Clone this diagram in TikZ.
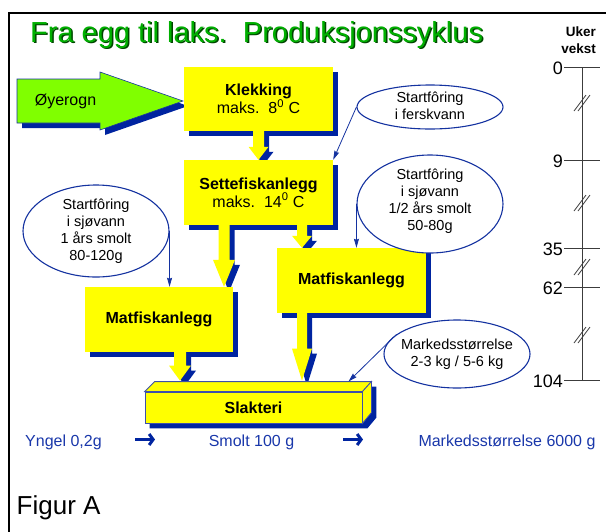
\documentclass[tikz,border=0pt]{standalone}
\usepackage{fontspec}
\setmainfont{Liberation Sans}
\usetikzlibrary{shapes.geometric,arrows.meta,calc}
\pgfdeclarelayer{shadowlayer}
\pgfdeclarelayer{arrlayer}
\pgfsetlayers{shadowlayer,arrlayer,main}
\definecolor{sblue}{RGB}{0,36,160}
\definecolor{yel}{RGB}{255,255,0}
\definecolor{lgreen}{RGB}{128,255,0}
\definecolor{tgreen}{RGB}{0,175,0}
\definecolor{tshadow}{RGB}{0,70,0}
\definecolor{eblue}{RGB}{20,50,160}
\definecolor{tblue}{RGB}{25,55,170}
\definecolor{edgeblue}{RGB}{60,80,170}
\definecolor{axisgray}{RGB}{60,60,60}
\newcommand\myfs[2]{\fontsize{#1}{#2}\selectfont}
% block arrow: #1 source point, #2 target point, #3 x centre, #4 shaft half width, #5 head half width, #6 head length
\newcommand\blockarrow[6]{%
  \begin{pgfonlayer}{shadowlayer}
  \fill[sblue] let \p1=(#1), \p2=(#2) in
    ({#3-#4+5},{\y1-5}) -- ({#3+#4+5},{\y1-5}) -- ({#3+#4+5},{\y2+#6-5}) -- ({#3+#5+5},{\y2+#6-5})
    -- ({#3+5},{\y2-5}) -- ({#3-#5+5},{\y2+#6-5}) -- ({#3-#4+5},{\y2+#6-5}) -- cycle;
  \end{pgfonlayer}
  \begin{pgfonlayer}{arrlayer}
  \fill[yel] let \p1=(#1), \p2=(#2) in
    ({#3-#4},{\y1}) -- ({#3+#4},{\y1}) -- ({#3+#4},{\y2+#6}) -- ({#3+#5},{\y2+#6})
    -- ({#3},{\y2}) -- ({#3-#5},{\y2+#6}) -- ({#3-#4},{\y2+#6}) -- cycle;
  \end{pgfonlayer}}
\newcommand\boxshadow[1]{%
  \begin{pgfonlayer}{shadowlayer}
  \fill[sblue] ([shift={(5,5)}]#1.north west) rectangle ([shift={(5,5)}]#1.south east);
  \end{pgfonlayer}}
\frenchspacing
\begin{document}
\begin{tikzpicture}[x=1pt,y=-1pt,
  ybox/.style={fill=yel, inner sep=0pt, align=center, font=\myfs{16}{18}},
  bubble/.style={draw=eblue, line width=1.1pt, fill=white, ellipse, inner sep=0pt},
  btext/.style={align=center, font=\myfs{14.5}{17}, inner sep=0pt},
  conn/.style={draw=eblue, line width=0.8pt, -{Stealth[length=9pt,width=5pt,inset=1pt]}},
  btm/.style={text=tblue, font=\myfs{16}{18}, inner sep=0pt},
  bigarr/.style={draw=sblue, line width=3pt, -{Straight Barb[length=4pt,width=11pt]}},
  scl/.style={font=\myfs{18}{20}, inner sep=0pt, anchor=east},
  axisline/.style={draw=axisgray, line width=0.8pt},
  ]
\useasboundingbox (0,0) rectangle (606,531);
% frame
\draw[line width=2pt] (9,540) -- (9,12.5) -- (615,12.5);

% title
\node[anchor=base west, text=tshadow, font=\myfs{29}{32}, inner sep=0pt] (titlesh) at (31.5,43.5) {Fra egg til laks.\ \ Produksjonssyklus};
\node[anchor=base west, text=tgreen, font=\myfs{29}{32}, inner sep=0pt] (title) at (30,42) {Fra egg til laks.\ \ Produksjonssyklus};

% yellow boxes
\node[ybox, minimum width=149, minimum height=64] (kl) at (258.5,99) {\textbf{Klekking}\\maks.\ \ 8\textsuperscript{0} C};
\node[ybox, minimum width=149, minimum height=65] (sf) at (258.5,192.5) {\textbf{Settefiskanlegg}\\maks.\ \ 14\textsuperscript{0} C};
\node[ybox, minimum width=148, minimum height=65, font=\bfseries\myfs{16}{18}] (mfL) at (159,319.5) {Matfiskanlegg};
\node[ybox, minimum width=149, minimum height=65, font=\bfseries\myfs{16}{18}] (mfR) at (351.5,280.5) {Matfiskanlegg};
\boxshadow{kl}
\boxshadow{sf}
\boxshadow{mfL}
\boxshadow{mfR}

% Slakteri 3D box
\node[ybox, draw=edgeblue, line width=0.8pt, minimum width=217, minimum height=31, font=\bfseries\myfs{16}{18}] (sl) at (253.5,407.5) {Slakteri};
\filldraw[fill=yel, draw=edgeblue, line width=0.8pt] (sl.north west) -- ++(10,-10) -- ([shift={(9,-10)}]sl.north east) -- (sl.north east) -- cycle;
\filldraw[fill=yel, draw=edgeblue, line width=0.8pt] (sl.north east) -- ++(9,-10) -- ++(0,31) -- (sl.south east) -- cycle;
\begin{pgfonlayer}{shadowlayer}
\fill[sblue] ([shift={(5,5)}]sl.north west) -- ([shift={(15,-5)}]sl.north west) -- ([shift={(14,-5)}]sl.north east)
  -- ([shift={(14,26)}]sl.north east) -- ([shift={(5,5)}]sl.south east) -- ([shift={(5,5)}]sl.south west) -- cycle;
\end{pgfonlayer}
\coordinate (sltop) at ($(sl.north)+(0,-11)$);
\coordinate (slarr) at ($(sl.north east)+(-14,-10)$);

% green arrow
\begin{pgfonlayer}{shadowlayer}
\fill[sblue] (22,84) -- (105,84) -- (105,77) -- (188,106) -- (105,135) -- (105,128) -- (22,128) -- cycle;
\end{pgfonlayer}
\begin{pgfonlayer}{arrlayer}
\filldraw[fill=lgreen, draw=eblue, line width=0.6pt] (17,79) -- (100,79) -- (100,72) -- (183,101) -- (100,130) -- (100,123) -- (17,123) -- cycle;
\end{pgfonlayer}
\node[font=\myfs{16}{18}, inner sep=0pt] (oy) at (65.5,101) {Øyerogn};

% block arrows
\blockarrow{kl.south}{sf.north}{258.5}{5.5}{10}{13}
\blockarrow{sf.south}{mfL.north}{224}{5.5}{11}{27}
\blockarrow{sf.south}{mfR.north}{302}{5}{10}{12}
\blockarrow{mfL.south}{sltop}{180}{6}{11}{15}
\blockarrow{mfR.south}{sltop}{302}{5}{10}{32}

% ellipses
\node[bubble, minimum width=146, minimum height=44] (eF) at (430,107) {};
\node[btext] (eFt) at (430,106) {Startfôring\\i ferskvann};
\node[bubble, minimum width=146, minimum height=98] (eS2) at (430,204) {};
\node[btext] (eS2t) at (430,201) {Startfôring\\i sjøvann\\1/2 års smolt\\50-80g};
\node[bubble, minimum width=146, minimum height=92] (eS1) at (96,231) {};
\node[btext] (eS1t) at (96,231) {Startfôring\\i sjøvann\\1 års smolt\\80-120g};
\node[bubble, minimum width=146, minimum height=68] (eM) at (457,354) {};
\node[btext] (eMt) at (457,354) {Markedsstørrelse\\2-3 kg / 5-6 kg};

% thin connectors
\draw[conn] (eF.west) -- (sf.north east);
\draw[conn] (eS2.west) -- (eS2.west |- mfR.north);
\draw[conn] (eS1.east) -- (eS1.east |- mfL.north);
\draw[conn] (eM.162) -- (slarr);

% bottom line
\node[btm, anchor=base west] (yngel) at (25,446) {Yngel 0,2g};
\node[btm, anchor=base] (smolt) at (251.5,446) {Smolt 100 g};
\node[btm, anchor=base] (mark) at (507,446) {Markedsstørrelse 6000 g};
\coordinate (a1s) at (135,439.5);
\coordinate (a1e) at (155,439.5);
\coordinate (a2s) at (343,439.5);
\coordinate (a2e) at (363,439.5);
\draw[bigarr] (a1s) -- (a1e);
\draw[bigarr] (a2s) -- (a2e);

% figure label
\node[anchor=base west, font=\myfs{26}{30}, inner sep=0pt] (fig) at (16.5,514) {Figur A};

% weeks scale
\node[anchor=east, align=right, font=\bfseries\myfs{13.5}{17}, inner sep=0pt] (uker) at (596,40.5) {Uker\\vekst};
\draw[axisline] (582,67) -- (582,380);
\foreach \yy/\lab in {67/0,160/9,248/35,287/62,380/104}{
  \node[scl] (w\lab) at (563,\yy+1) {\lab};
  \draw[axisline] (564,\yy) -- (600,\yy);
}
\foreach \yy in {103,203,267,335}{
  \draw[axisline] (574,\yy+8) -- (586,\yy-8);
  \draw[axisline] (578,\yy+8) -- (590,\yy-8);
}
\end{tikzpicture}
\end{document}
